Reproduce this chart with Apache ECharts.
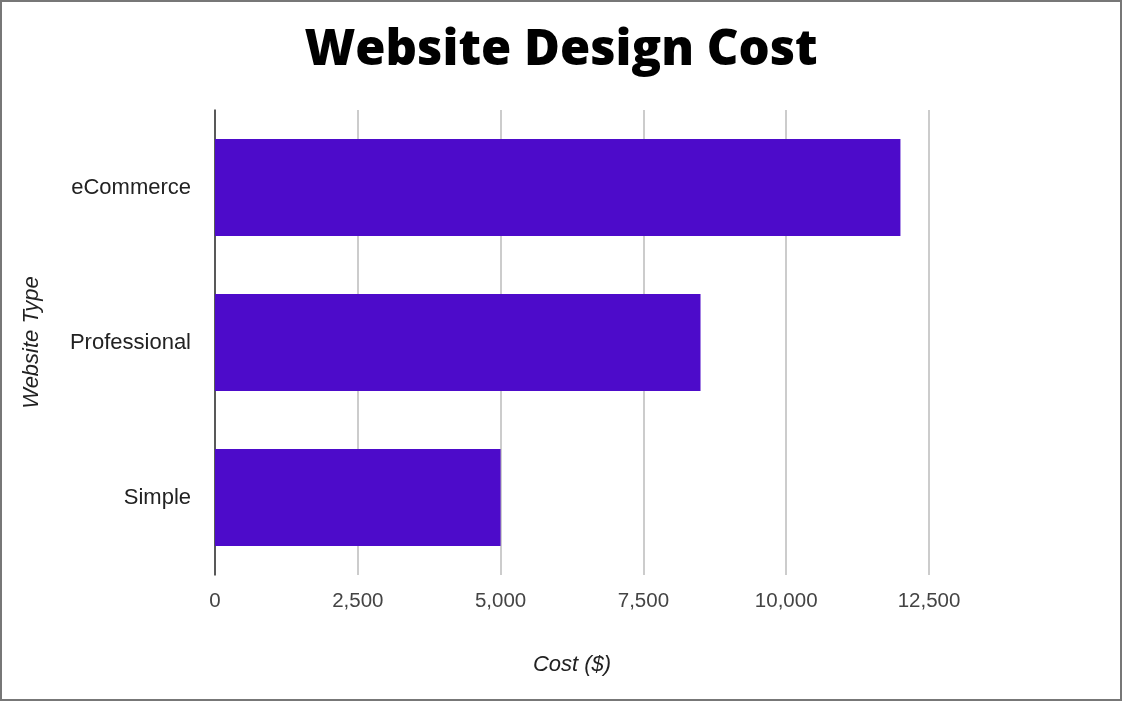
<!DOCTYPE html>
<html>
<head>
<meta charset="utf-8">
<script src="https://cdn.jsdelivr.net/npm/echarts@6/dist/echarts.min.js"></script>
<style>
html,body{margin:0;padding:0;background:#fff;}
#frame{position:absolute;left:0;top:0;width:1118px;height:697px;border:2px solid #777;}
#chart{position:absolute;left:0;top:0;width:1122px;height:701px;}
</style>
</head>
<body>
<div id="chart"></div>
<div id="frame"></div>
<script>
const titleText = "Website Design Cost";
const categories = ["Simple", "Professional", "eCommerce"];
const costs = [5000, 8500, 12000];
const xAxisName = "Cost ($)";
const yAxisName = "Website Type";

const chart = echarts.init(document.getElementById('chart'));
chart.setOption({
  backgroundColor: '#fff',
  animation: false,
  title: {
    text: titleText,
    left: 'center',
    top: 22,
    textStyle: {fontFamily: 'Open Sans', fontWeight: 800, fontSize: 49, color: '#000'}
  },
  grid: {left: 215, right: 193, top: 110, bottom: 126, containLabel: false},
  xAxis: {
    type: 'value',
    min: 0, max: 12500, interval: 2500,
    name: xAxisName,
    nameLocation: 'middle',
    nameGap: 79,
    nameTextStyle: {fontFamily: 'Liberation Sans', fontStyle: 'italic', fontSize: 22, color: '#222'},
    axisLine: {show: false},
    axisTick: {show: false},
    axisLabel: {
      fontFamily: 'Liberation Sans', fontSize: 20.5, color: '#444', margin: 16,
      formatter: v => v.toLocaleString('en-US')
    },
    splitLine: {show: true, lineStyle: {color: '#cccccc', width: 2}}
  },
  yAxis: {
    type: 'category',
    data: categories,
    name: yAxisName,
    nameLocation: 'middle',
    nameGap: 172,
    nameRotate: 90,
    nameTextStyle: {fontFamily: 'Liberation Sans', fontStyle: 'italic', fontSize: 22, color: '#222'},
    axisLine: {show: true, lineStyle: {color: '#333', width: 1.5}},
    axisTick: {show: false},
    axisLabel: {fontFamily: 'Liberation Sans', fontSize: 22, color: '#222', margin: 24}
  },
  series: [{
    type: 'bar',
    data: costs,
    barCategoryGap: '37.5%',
    itemStyle: {color: '#4d0bca'}
  }]
});
</script>
</body>
</html>
